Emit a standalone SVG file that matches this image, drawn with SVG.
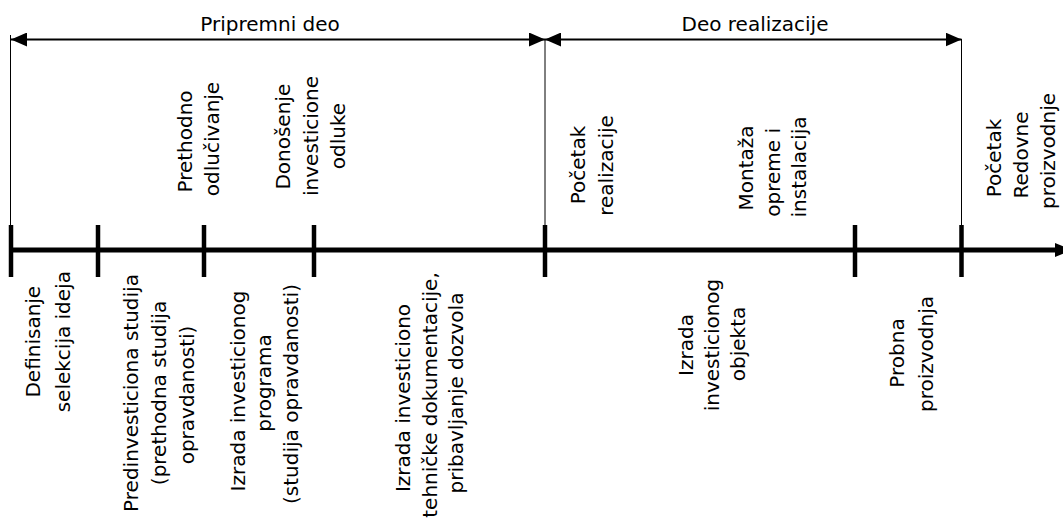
<svg xmlns="http://www.w3.org/2000/svg" width="1063" height="520" viewBox="0 0 1063 520">
<style>
text{font-family:"DejaVu Sans","Liberation Sans",sans-serif;font-size:20px;fill:#000;text-anchor:middle}
.thin{stroke:#000;stroke-width:1;fill:none}
.span{stroke:#000;stroke-width:2;fill:none;marker-start:url(#ah);marker-end:url(#ah)}
.axis{stroke:#000;stroke-width:5;fill:none;marker-end:url(#ax)}
.tick{stroke:#000;stroke-width:4.5}
</style>
<defs>
<marker id="ah" markerUnits="userSpaceOnUse" markerWidth="16" markerHeight="14" refX="16" refY="7" orient="auto-start-reverse" viewBox="0 0 16 14">
<path d="M0,0 L16,7 L0,14 z" fill="#000"/>
</marker>
<marker id="ax" markerUnits="userSpaceOnUse" markerWidth="17" markerHeight="14" refX="0" refY="7" orient="auto" viewBox="0 0 17 14">
<path d="M0,0 L17,7 L0,14 z" fill="#000"/>
</marker>
</defs>
<rect width="1063" height="520" fill="#fff"/>
<g id="connectors">
<line class="thin" x1="10.5" y1="35" x2="10.5" y2="226"/>
<line class="thin" x1="545" y1="39" x2="545" y2="226"/>
<line class="thin" x1="961.5" y1="39" x2="961.5" y2="226"/>
<line class="span" x1="11" y1="39.5" x2="545" y2="39.5"/>
<line class="span" x1="545" y1="39.5" x2="961.5" y2="39.5"/>
<line class="axis" x1="9" y1="250" x2="1055" y2="250"/>
<line class="tick" x1="11" y1="225" x2="11" y2="277"/>
<line class="tick" x1="98" y1="225" x2="98" y2="277"/>
<line class="tick" x1="204" y1="225" x2="204" y2="277"/>
<line class="tick" x1="314" y1="225" x2="314" y2="277"/>
<line class="tick" x1="545" y1="225" x2="545" y2="277"/>
<line class="tick" x1="855" y1="225" x2="855" y2="277"/>
<line class="tick" x1="961.5" y1="225" x2="961.5" y2="277"/>
</g>
<g id="pripremni-deo"><text x="270" y="30.5">Pripremni deo</text></g>
<g id="deo-realizacije"><text x="755" y="30.5">Deo realizacije</text></g>
<g id="prethodno">
<text transform="translate(191.5,141.5) rotate(-90)">Prethodno</text>
<text transform="translate(219,139) rotate(-90)">odlučivanje</text>
</g>
<g id="donosenje">
<text transform="translate(290,136.7) rotate(-90)">Donošenje</text>
<text transform="translate(317.5,136) rotate(-90)">investicione</text>
<text transform="translate(345,136) rotate(-90)">odluke</text>
</g>
<g id="pocetak-realizacije">
<text transform="translate(585,165) rotate(-90)">Početak</text>
<text transform="translate(612.5,165.5) rotate(-90)">realizacije</text>
</g>
<g id="montaza">
<text transform="translate(752.5,168) rotate(-90)">Montaža</text>
<text transform="translate(780,172.4) rotate(-90)">opreme i</text>
<text transform="translate(806,167) rotate(-90)">instalacija</text>
</g>
<g id="pocetak-redovne">
<text transform="translate(1001,158) rotate(-90)">Početak</text>
<text transform="translate(1028,155) rotate(-90)">Redovne</text>
<text transform="translate(1055,151) rotate(-90)">proizvodnje</text>
</g>
<g id="definisanje">
<text transform="translate(40,341.7) rotate(-90)">Definisanje</text>
<text transform="translate(70,341.7) rotate(-90)">selekcija ideja</text>
</g>
<g id="predinvesticiona">
<text transform="translate(138,393) rotate(-90)">Predinvesticiona studija</text>
<text transform="translate(166,393) rotate(-90)">(prethodna studija</text>
<text transform="translate(194,395) rotate(-90)">opravdanosti)</text>
</g>
<g id="izrada-programa">
<text transform="translate(245,391) rotate(-90)">Izrada investicionog</text>
<text transform="translate(270.5,383) rotate(-90)">programa</text>
<text transform="translate(298,394) rotate(-90)">(studija opravdanosti)</text>
</g>
<g id="izrada-dokumentacije">
<text transform="translate(410,398) rotate(-90)">Izrada investiciono</text>
<text transform="translate(437,395) rotate(-90)">tehničke dokumentacije,</text>
<text transform="translate(463,393) rotate(-90)">pribavljanje dozvola</text>
</g>
<g id="izrada-objekta">
<text transform="translate(692.5,345) rotate(-90)">Izrada</text>
<text transform="translate(718.5,345) rotate(-90)">investicionog</text>
<text transform="translate(745,344) rotate(-90)">objekta</text>
</g>
<g id="probna">
<text transform="translate(904,353) rotate(-90)">Probna</text>
<text transform="translate(933,354) rotate(-90)">proizvodnja</text>
</g>
</svg>
